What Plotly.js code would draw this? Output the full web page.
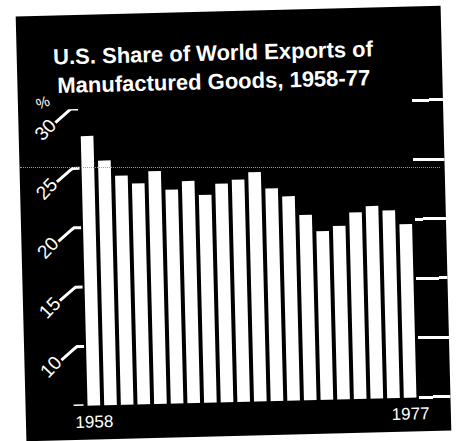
<!DOCTYPE html>
<html><head><meta charset="utf-8">
<script src="https://cdn.plot.ly/plotly-3.0.1.min.js"></script>
<style>
html,body{margin:0;padding:0;background:#fff;width:457px;height:441px;overflow:hidden;}
#wrap{position:absolute;left:20.5px;top:10.5px;width:425px;height:425px;transform:rotate(-1.45deg);transform-origin:50% 50%;}
#chart{width:425px;height:425px;}
#fold{position:absolute;left:20px;top:167px;width:420px;height:0;border-top:1.5px dotted #9a9a9a;}
</style></head><body>
<div id="wrap"><div id="chart"></div></div>
<div id="fold"></div>
<script>
// Data
const years = [1958,1959,1960,1961,1962,1963,1964,1965,1966,1967,1968,1969,1970,1971,1972,1973,1974,1975,1976,1977];
const share = [27.7,25.6,24.3,23.6,24.6,23.0,23.7,22.5,23.4,23.7,24.3,22.9,22.2,20.6,19.2,19.6,20.7,21.2,20.8,19.6];
const yTickVals = [10,15,20,25,30];
const yTickLabels = ['10','15','20','25','30'];
const rightTickVals = [5,10,15,20,25,30];
const xTickVals = [1958,1977];
const xTickLabels = ['1958','1977'];
const titleText = '<b>U.S. Share of World Exports of<br>Manufactured Goods, 1958-77</b>';
const unitLabel = '%';

const W = 425, H = 425;
const M = {l:60, r:32, t:94, b:34};
const PW = W - M.l - M.r;
const px = u => (u - M.l) / PW;
const FONT = 'Liberation Sans, Arial, Helvetica, sans-serif';
const hookDrop = 1.1; // in axis units (about 13px)

const shapes = yTickVals.map(v => ({
  type:'path', xref:'paper', yref:'y', layer:'above',
  path:`M ${px(60)},${v} L ${px(53)},${v} L ${px(50.5)},${v-0.15} L ${px(37)},${v-hookDrop}`,
  line:{color:'#fff', width:3}
}));
shapes.push({type:'line', xref:'paper', yref:'y', x0:px(48), x1:px(58), y0:5, y1:5, line:{color:'#fff', width:3}});

const annotations = yTickVals.map((v,i) => ({
  xref:'paper', yref:'y', x:px(26), y:v, yshift:-20, text:yTickLabels[i], showarrow:false,
  textangle:-45, xanchor:'center', yanchor:'middle', font:{family:FONT, size:19, color:'#fff'}
}));
annotations.push({xref:'paper', yref:'y', x:px(24.5), y:30, yshift:8, text:unitLabel, showarrow:false,
  xanchor:'center', yanchor:'middle', textangle:-20, font:{family:FONT, size:15, color:'#fff'}});

Plotly.newPlot('chart', [{
  type:'bar', x:years, y:share, marker:{color:'#fff', line:{width:0}}, hoverinfo:'x+y'
}], {
  width:W, height:H, margin:M,
  paper_bgcolor:'#000', plot_bgcolor:'#000',
  bargap:0.24, showlegend:false,
  title:{text:titleText, x:0.462, xanchor:'center', xref:'container', y:1-49/H, yref:'container', yanchor:'middle',
    font:{family:FONT, size:22, color:'#fff'}},
  xaxis:{range:[1957.5,1977.5], tickvals:xTickVals, ticktext:xTickLabels, ticks:'', showgrid:false, zeroline:false, showline:false,
    tickfont:{family:FONT, size:17, color:'#fff'}, ticklabelstandoff:4, fixedrange:true},
  yaxis:{range:[5,30], side:'right', tickvals:rightTickVals, ticks:'outside', ticklen:32, tickwidth:3, tickcolor:'#fff',
    showticklabels:false, showgrid:false, zeroline:false, showline:false, fixedrange:true},
  shapes:shapes, annotations:annotations
}, {staticPlot:true, displayModeBar:false});
</script>
</body></html>
